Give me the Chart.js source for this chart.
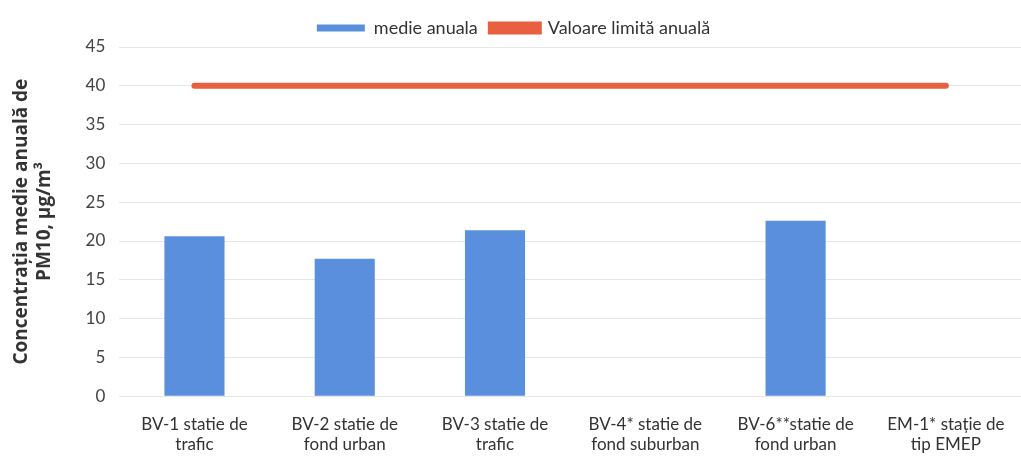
<!DOCTYPE html>
<html>
<head>
<meta charset="utf-8">
<script src="https://cdn.jsdelivr.net/npm/chart.js@4/dist/chart.umd.min.js"></script>
<style>
  html, body { margin: 0; padding: 0; background: #fff; }
  #wrap { width: 1021px; height: 467px; }
</style>
</head>
<body>
<div id="wrap"><canvas id="pm10Chart" width="1021" height="467"></canvas></div>
<script>
// station labels (two lines each)
const stations = [
    ['BV-1 statie de', 'trafic'],
    ['BV-2 statie de', 'fond urban'],
    ['BV-3 statie de', 'trafic'],
    ['BV-4* statie de', 'fond suburban'],
    ['BV-6**statie de', 'fond urban'],
    ['EM-1* stație de', 'tip EMEP']
];
// annual mean PM10, µg/m3 (no data for BV-4 and EM-1)
const annualMean = [20.6, 17.7, 21.4, null, 22.6, null];
// annual limit value
const limitValue = [40, 40, 40, 40, 40, 40];

const ctx = document.getElementById('pm10Chart').getContext('2d');
new Chart(ctx, {
    type: 'bar',
    data: {
        labels: stations,
        datasets: [
            {
                type: 'line',
                label: 'Valoare limită anuală',
                data: limitValue,
                borderColor: '#e8603f',
                backgroundColor: '#e8603f',
                borderWidth: 6,
                borderCapStyle: 'round',
                pointRadius: 0,
                order: 0
            },
            {
                label: 'medie anuala',
                data: annualMean,
                backgroundColor: '#5a8fdd',
                categoryPercentage: 1,
                barPercentage: 0.4,
                order: 1
            }
        ]
    },
    options: {
        responsive: false,
        animation: false,
        layout: { padding: { left: 6, right: 0, top: 6, bottom: 2 } },
        plugins: {
            legend: {
                position: 'top',
                reverse: true,
                labels: {
                    font: { family: 'Lato', size: 18 },
                    color: '#333',
                    boxWidth: 48,
                    boxHeight: 7,
                    padding: 13
                }
            },
            tooltip: { enabled: false }
        },
        scales: {
            x: {
                grid: { display: false },
                border: { display: false },
                ticks: {
                    font: { family: 'Lato', size: 17 },
                    color: '#333',
                    maxRotation: 0,
                    autoSkip: false,
                    padding: 10
                }
            },
            y: {
                min: 0,
                max: 45,
                ticks: {
                    stepSize: 5,
                    font: { family: 'Lato', size: 17 },
                    color: '#444',
                    padding: 14
                },
                grid: { color: '#e6e6e6', drawTicks: false },
                border: { display: false },
                title: {
                    display: true,
                    text: ['Concentrația medie anuală de', 'PM10, µg/m³'],
                    font: { family: 'Open Sans', size: 19, weight: 'bold' },
                    color: '#333',
                    padding: { bottom: 16 }
                }
            }
        }
    }
});
</script>
</body>
</html>
